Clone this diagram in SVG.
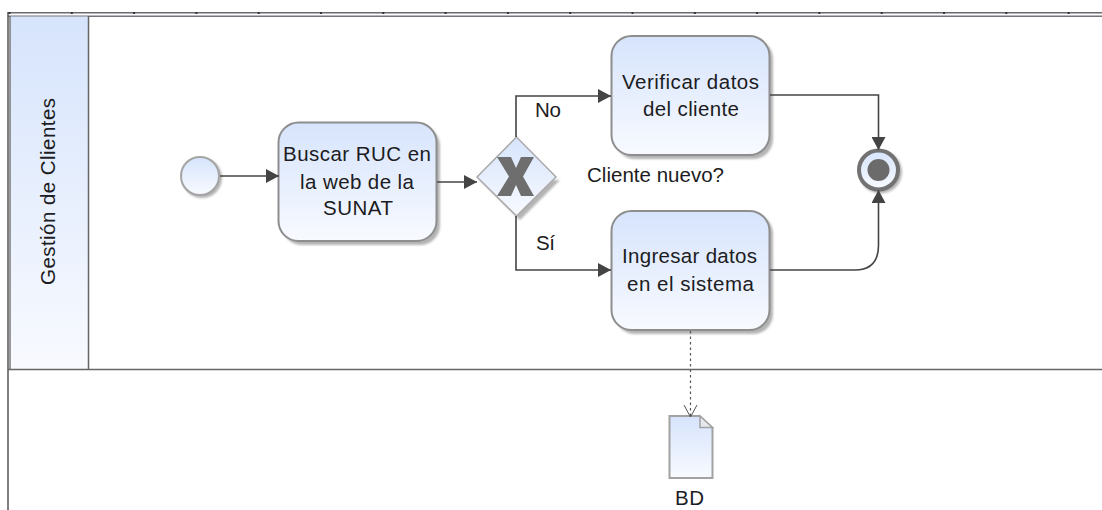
<svg xmlns="http://www.w3.org/2000/svg" width="1102" height="510" viewBox="0 0 1102 510">
<defs>
<linearGradient id="g" x1="0" y1="0" x2="0" y2="1"><stop offset="0" stop-color="#d6e4fc"/><stop offset="1" stop-color="#f8faff"/></linearGradient>
<filter id="soft" x="-10%" y="-10%" width="120%" height="120%"><feGaussianBlur stdDeviation="0.8"/></filter>
<marker id="arr" markerUnits="userSpaceOnUse" markerWidth="14" markerHeight="14" refX="13" refY="7" orient="auto"><path d="M0 0L13 7L0 14Z" fill="#444"/></marker>
<marker id="open" markerUnits="userSpaceOnUse" markerWidth="14" markerHeight="16" refX="12" refY="7" orient="auto"><path d="M0 0.5L12 7L0 13.5" fill="none" stroke="#555" stroke-width="1"/></marker>
</defs>
<style>
text{font-family:"Liberation Sans",Arial,sans-serif;font-size:20.5px;fill:#1c1c22;text-anchor:middle}
.task{fill:url(#g);stroke:#8e8e8e;stroke-width:2}
.sh{fill:#b4b4b4;filter:url(#soft)}
.c{fill:none;stroke:#444;stroke-width:1.6}
</style>
<rect width="1102" height="510" fill="#fff"/>
<g id="pool">
<rect x="8" y="12" width="1094" height="1.500" fill="#6a6a72"/>
<rect x="8" y="15.500" width="1094" height="1.500" fill="#74747c"/>
<path d="M8 12V510" stroke="#555" stroke-width="1.500" fill="none"/>
<rect x="10" y="16.500" width="78.500" height="352.500" fill="url(#g)"/>
<path d="M10 16V369" stroke="#666" stroke-width="1.300" fill="none"/>
<path d="M88.500 16V369" stroke="#666" stroke-width="1.500" fill="none"/>
<path d="M8 369.500H1102" stroke="#666" stroke-width="1.500" fill="none"/>
<path stroke="#333" stroke-width="2" stroke-dasharray="2 60.300" d="M8.500 13H1102" fill="none"/>
<text transform="translate(55 191.500) rotate(-90)" textLength="187">Gestión de Clientes</text>
</g>
<g id="start">
<circle cx="202" cy="178" r="20" class="sh"/>
<circle cx="200" cy="176" r="19" fill="url(#g)" stroke="#a4a4a4" stroke-width="2"/>
</g>
<g id="buscar">
<rect x="282" y="126" width="158" height="119" rx="20" class="sh"/>
<rect x="278.500" y="122.500" width="158" height="118.500" rx="20" class="task"/>
<text x="357" y="161" textLength="148">Buscar RUC en</text>
<text x="357" y="189" textLength="114">la web de la</text>
<text x="358" y="215" textLength="70">SUNAT</text>
</g>
<g id="gateway">
<path d="M560 180L520 220L480 180Z" class="sh"/>
<path d="M516.500 137L556 177L516.500 216L477 177Z" fill="url(#g)" stroke="#aaa" stroke-width="1.500"/>
<path d="M497 157H511L516 168L521 157H534L523 176.500L534 196H521L516 185L511 196H497L509 176.500Z" fill="#6e6e6e"/>
</g>
<g id="verificar">
<rect x="615" y="39" width="158" height="120" rx="20" class="sh"/>
<rect x="611.500" y="36" width="158" height="119" rx="20" class="task"/>
<text x="690.500" y="89" textLength="137">Verificar datos</text>
<text x="691" y="116" textLength="96">del cliente</text>
</g>
<g id="ingresar">
<rect x="615" y="214" width="158" height="120" rx="20" class="sh"/>
<rect x="611.500" y="211" width="158" height="119" rx="20" class="task"/>
<text x="689.500" y="263" textLength="135">Ingresar datos</text>
<text x="690.500" y="291" textLength="127">en el sistema</text>
</g>
<g id="end">
<circle cx="880.500" cy="172" r="21.500" class="sh"/>
<circle cx="878.500" cy="170" r="19.500" fill="url(#g)" stroke="#727272" stroke-width="4"/>
<circle cx="878.500" cy="170" r="11" fill="#6b6b6b"/>
</g>
<g id="bd">
<path d="M669.500 416H699.500L712.500 428V478H669.500Z" fill="url(#g)" stroke="#a2a2a2" stroke-width="2"/>
<path d="M700 416V427.500H712.500Z" fill="#e6e8ee" stroke="#a2a2a2" stroke-width="1.500"/>
<text x="689.500" y="505" textLength="29">BD</text>
</g>
<g id="connectors">
<path class="c" d="M220 176H279" marker-end="url(#arr)"/>
<path class="c" d="M437 182H477" marker-end="url(#arr)"/>
<path class="c" d="M516 137V96H611" marker-end="url(#arr)"/>
<path class="c" d="M516 216V270H611" marker-end="url(#arr)"/>
<path class="c" d="M770 95H878.500V150" marker-end="url(#arr)"/>
<path class="c" d="M770 270H855Q878.500 270 878.500 245V190" marker-end="url(#arr)"/>
<path d="M690.500 331V417" fill="none" stroke="#555" stroke-width="1.200" stroke-dasharray="2.500 3" marker-end="url(#open)"/>
<text x="548" y="117" textLength="26">No</text>
<text x="545.500" y="250" textLength="19">Sí</text>
<text x="655.500" y="182" textLength="137">Cliente nuevo?</text>
</g>
</svg>
